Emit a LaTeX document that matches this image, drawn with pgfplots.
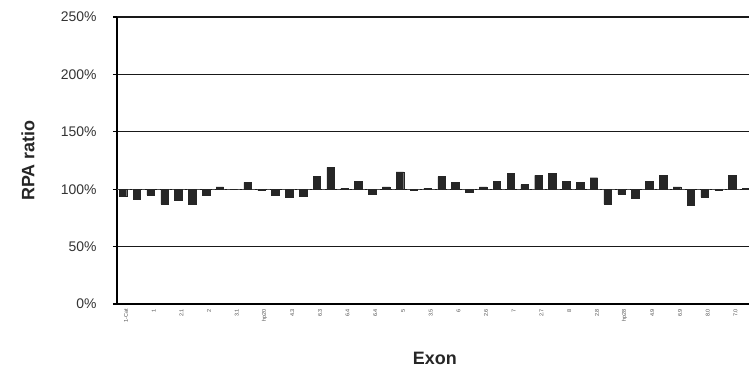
\documentclass[border=0pt]{standalone}
\usepackage{pgfplots}
\pgfplotsset{compat=1.18}
\usepackage{pgfplotstable}
\usepackage{fontspec}
\setmainfont{Liberation Sans}
\pgfplotstableread{
idx v
0 94
1 91
2 95
3 87
4 90
5 87
6 95
7 102
8 100
9 106
10 99
11 95
12 93
13 94
14 111
15 119
16 101
17 107
18 96
19 102
20 115
21 99
22 101
23 111
24 106
25 97
26 102
27 107
28 114
29 104
30 112
31 114
32 107
33 106
34 110
35 87
36 96
37 92
38 107
39 112
40 102
41 86
42 93
43 99
44 112
45 101
}\rpadata
\definecolor{barc}{HTML}{262626}
\begin{document}
\begin{tikzpicture}
\begin{axis}[
  name=a,
  scale only axis,
  width=632bp, height=287bp,
  xmin=-0.43, xmax=45.2,
  ymin=-100, ymax=150,
  clip=true,
  axis x line*=bottom,
  axis y line*=left,
  axis line style={black, line width=1.6bp},
  ytick={-100,-50,0,50,100,150},
  yticklabels={0\%,50\%,100\%,150\%,200\%,250\%},
  ytick style={black, line width=1.2bp},
  tick align=outside,
  major tick length=4bp,
  ymajorgrids,
  grid style={black!90, line width=1.4bp},
  xtick={0,2,...,44},
  xticklabels={1-Cat,1,2.1,2,3.1,hp20,4.3,6.3,6.4,6.4,5,3.5,6,2.6,7,2.7,8,2.8,hp28,4.9,6.9,8.0,7.0},
  x tick style={draw=none},
  xticklabel style={rotate=90, anchor=east, font=\fontsize{5.5}{6}\selectfont, text=black!70, inner sep=1bp, yshift=-3bp},
  yticklabel style={font=\fontsize{14}{16}\selectfont, text=black!80, xshift=-13bp},
  ylabel={\bfseries RPA ratio},
  ylabel style={at={(axis description cs:-0.1408,0.5)}, anchor=center, font=\fontsize{18}{20}\selectfont, text=black!85},
  xlabel={\bfseries Exon},
  xlabel style={at={(axis description cs:0.503,-0.188)}, anchor=center, font=\fontsize{18}{20}\selectfont, text=black!85},
]
\draw[black!70, line width=1bp, dash pattern=on 3bp off 2bp] (axis cs:-0.43,0) -- (axis cs:45.2,0);
\addplot[ybar, bar width=7.5bp, fill=barc, draw=barc, bar shift=0pt]
  table[x=idx, y expr=\thisrow{v}-100] {\rpadata};
\end{axis}
\pgfresetboundingbox
\path[use as bounding box] ([xshift=-117bp,yshift=-68bp]a.south west) rectangle ([yshift=17bp]a.north east);
\end{tikzpicture}
\end{document}
